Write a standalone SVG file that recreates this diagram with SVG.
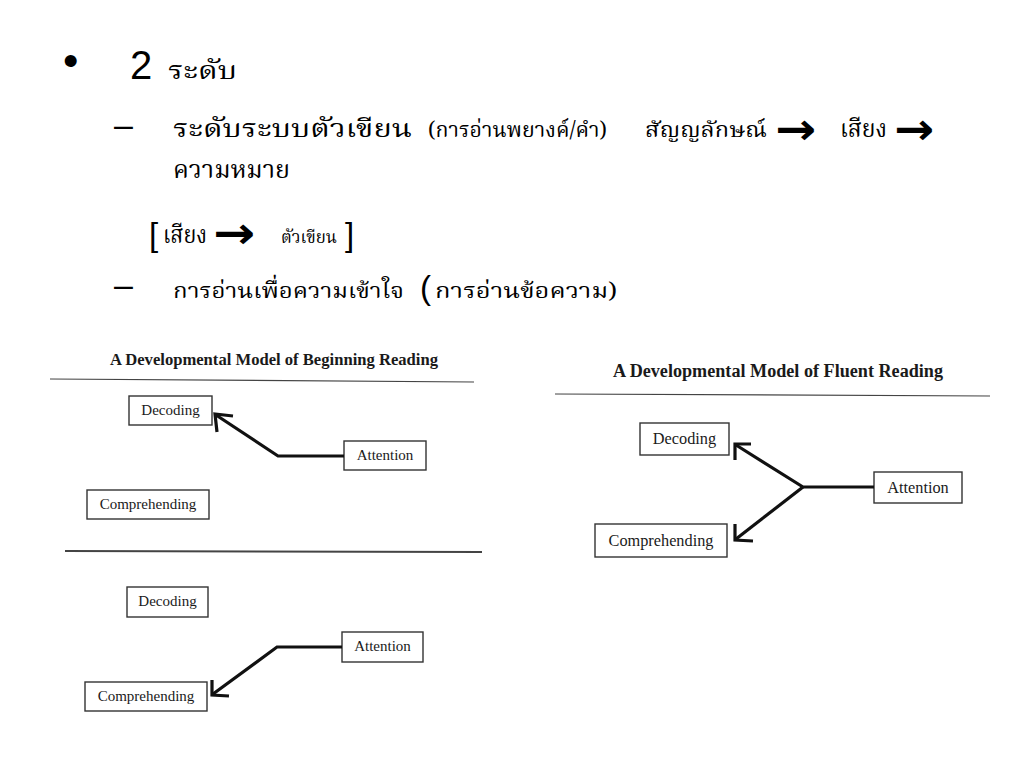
<svg xmlns="http://www.w3.org/2000/svg" width="1024" height="768" viewBox="0 0 1024 768">
<defs>
<style>
.th{font-family:"Noto Serif Thai","Noto Sans Thai","Liberation Serif",serif;font-size:25px;fill:#000}
.sm{font-size:22px}
.xs{font-size:17.5px}
.sans{font-family:"Liberation Sans",Arial,sans-serif;fill:#000}
.arr{font-family:"DejaVu Sans",sans-serif;font-weight:bold;font-size:44px;fill:#000}
.ttl{font-family:"Liberation Serif","Times New Roman",serif;font-weight:bold;fill:#1a1a1a}
.box{fill:#fff;stroke:#333;stroke-width:1.4}
.lbl{font-family:"Liberation Serif","Times New Roman",serif;font-size:15px;fill:#1a1a1a;text-anchor:middle}
.lblf{font-family:"Liberation Serif","Times New Roman",serif;font-size:16.3px;fill:#1a1a1a;text-anchor:middle}
.rule{stroke:#444;fill:none}
.con{stroke:#111;stroke-width:3.2;fill:none;stroke-linejoin:miter;stroke-linecap:butt}
</style>
</defs>
<rect width="1024" height="768" fill="#fff"/>

<g id="text-block">
<text class="sans" x="63" y="76" font-size="44">•</text>
<text class="sans" x="130" y="79" font-size="40">2</text>
<text class="th" x="168" y="79" textLength="69" lengthAdjust="spacingAndGlyphs">ระดับ</text>

<text class="sans" x="114" y="136" font-size="34">–</text>
<text class="th" y="137"><tspan x="173" textLength="239" lengthAdjust="spacingAndGlyphs">ระดับระบบตัวเขียน</tspan><tspan class="sm" x="428" textLength="179" lengthAdjust="spacingAndGlyphs">(การอ่านพยางค์/คำ)</tspan><tspan class="sm" x="645" textLength="122" lengthAdjust="spacingAndGlyphs">สัญญลักษณ์</tspan><tspan class="arr" x="775" y="144" textLength="41" lengthAdjust="spacingAndGlyphs">→</tspan><tspan x="840" y="137" textLength="47" lengthAdjust="spacingAndGlyphs">เสียง</tspan><tspan class="arr" x="894" y="144" textLength="40" lengthAdjust="spacingAndGlyphs">→</tspan></text>
<text class="th" x="173" y="178" textLength="117" lengthAdjust="spacingAndGlyphs">ความหมาย</text>

<text class="th" y="243"><tspan class="sans" x="149" y="246" font-size="33">[</tspan><tspan x="163" y="243" textLength="44" lengthAdjust="spacingAndGlyphs">เสียง</tspan><tspan class="arr" x="213" y="248" textLength="42" lengthAdjust="spacingAndGlyphs">→</tspan><tspan class="xs" x="281" y="243" textLength="56" lengthAdjust="spacingAndGlyphs">ตัวเขียน</tspan><tspan class="sans" x="345" y="246" font-size="33">]</tspan></text>

<text class="sans" x="114" y="296" font-size="34">–</text>
<text class="th" y="298"><tspan class="sm" x="173" textLength="231" lengthAdjust="spacingAndGlyphs">การอ่านเพื่อความเข้าใจ</tspan><tspan class="sans" x="420" y="299" font-size="33">(</tspan><tspan class="sm" x="435" y="298" textLength="182" lengthAdjust="spacingAndGlyphs">การอ่านข้อความ)</tspan></text>
</g>

<g id="beginning-panel">
<text class="ttl" x="110" y="365" font-size="16.5" textLength="328" lengthAdjust="spacingAndGlyphs">A Developmental Model of Beginning Reading</text>
<line class="rule" x1="50" y1="379" x2="474" y2="382" stroke-width="1.2"/>
<line class="rule" x1="65" y1="551" x2="482" y2="552" stroke-width="2"/>
</g>

<g id="b1-decoding"><rect class="box" x="129" y="396" width="83" height="29"/><text class="lbl" x="170.5" y="415">Decoding</text></g>
<g id="b1-attention"><rect class="box" x="344" y="441" width="82" height="29"/><text class="lbl" x="385" y="460">Attention</text></g>
<g id="b1-comprehending"><rect class="box" x="87" y="490" width="122" height="29"/><text class="lbl" x="148" y="509">Comprehending</text></g>

<g id="b2-decoding"><rect class="box" x="127" y="587" width="81" height="30"/><text class="lbl" x="167.5" y="606">Decoding</text></g>
<g id="b2-attention"><rect class="box" x="342" y="632" width="81" height="30"/><text class="lbl" x="382.5" y="651">Attention</text></g>
<g id="b2-comprehending"><rect class="box" x="85" y="682" width="122" height="29"/><text class="lbl" x="146" y="701">Comprehending</text></g>

<g id="fluent-panel">
<text class="ttl" x="613" y="377" font-size="18" textLength="330" lengthAdjust="spacingAndGlyphs">A Developmental Model of Fluent Reading</text>
<line class="rule" x1="555" y1="394" x2="990" y2="396" stroke-width="1.2"/>
</g>

<g id="f-decoding"><rect class="box" x="640" y="423" width="89" height="32"/><text class="lblf" x="684.5" y="444">Decoding</text></g>
<g id="f-attention"><rect class="box" x="874" y="472" width="88" height="31"/><text class="lblf" x="918" y="493">Attention</text></g>
<g id="f-comprehending"><rect class="box" x="595" y="524" width="132" height="33"/><text class="lblf" x="661" y="546">Comprehending</text></g>

<g id="connectors">
<polyline class="con" points="344,456 278,456 216,415"/>
<polyline class="con" points="233,416 215,414 217,432"/>

<polyline class="con" points="342,647 277,647 213,694"/>
<polyline class="con" points="212,680 212,695 229,696"/>

<polyline class="con" points="874,487 803,487 736,445"/>
<polyline class="con" points="751,444 735,444 735,460"/>
<polyline class="con" points="803,487 736,539"/>
<polyline class="con" points="735,524 735,540 753,541"/>
</g>
</svg>
